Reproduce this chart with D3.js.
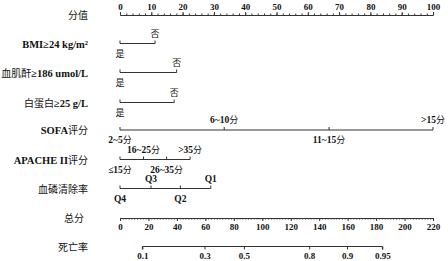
<!DOCTYPE html>
<html>
<head>
<meta charset="utf-8">
<script src="https://cdn.jsdelivr.net/npm/d3@7"></script>
<style>
  body { margin: 0; background: #fff; }
  text { font-family: "Liberation Serif", "Noto Sans CJK SC", serif; fill: #111; }
</style>
</head>
<body>
<svg id="nomo" width="448" height="261"></svg>
<script>
// points for each level
const bmiLevels = ['是', '否'];
const bmiPoints = [0, 11.2];
const creatLevels = ['是', '否'];
const creatPoints = [0, 18.1];
const albLevels = ['是', '否'];
const albPoints = [0, 17.3];
const sofaLevels = ['2~5分', '6~10分', '11~15分', '>15分'];
const sofaPoints = [0, 33.3, 66.8, 100];
const apacheLevels = ['≤15分', '16~25分', '26~35分', '>35分'];
const apachePoints = [0, 7.5, 14.9, 22.4];
const phosLevels = ['Q4', 'Q3', 'Q2', 'Q1'];
const phosPoints = [0, 9.9, 19.3, 29];

const pointTicks = d3.range(0, 101, 10);
const totalTicks = d3.range(0, 221, 20);
const probTicks = ['0.1', '0.3', '0.5', '0.8', '0.9', '0.95'];
const probTotals = [15.7, 59.4, 87.1, 133, 159.6, 184.4];

const rows = [
  { name: '分值', y: 15 },
  { name: 'BMI≥24 kg/m²', y: 43.5, levels: bmiLevels, points: bmiPoints },
  { name: '血肌酐≥186 umol/L', y: 72.5, levels: creatLevels, points: creatPoints },
  { name: '白蛋白≥25 g/L', y: 102.5, levels: albLevels, points: albPoints },
  { name: 'SOFA评分', y: 130, levels: sofaLevels, points: sofaPoints },
  { name: 'APACHE II评分', y: 159.5, levels: apacheLevels, points: apachePoints },
  { name: '血磷清除率', y: 188.5, levels: phosLevels, points: phosPoints },
  { name: '总分', y: 218 },
  { name: '死亡率', y: 246.5 },
];

const svg = d3.select('#nomo');
const lineColor = '#333';

const x = d3.scaleLinear().domain([0, 100]).range([120, 433]);
const xTotal = d3.scaleLinear().domain([0, 220]).range([120, 433]);

// latin bits bold serif, chinese bits normal weight
function mixedText(sel, str, size) {
  const runs = str.match(/[\u4e00-\u9fff]+|[^\u4e00-\u9fff]+/g);
  runs.forEach(run => {
    const cjk = /[\u4e00-\u9fff]/.test(run);
    sel.append('tspan')
      .style('font-size', cjk ? (size - 0.5) + 'px' : size + 'px')
      .style('font-weight', cjk ? 'normal' : 'bold')
      .text(run);
  });
}

// row names on the left
svg.append('g')
  .selectAll('text')
  .data(rows)
  .enter()
  .append('text')
  .attr('x', row => row.name === '总分' ? 84 : 88)
  .attr('y', row => row.y + 2)
  .attr('text-anchor', 'end')
  .attr('dominant-baseline', 'middle')
  .each(function (row) { mixedText(d3.select(this), row.name, 10.5); });

function styleAxis(g) {
  g.selectAll('path, line').attr('stroke', lineColor);
  g.selectAll('text')
    .style('font-family', '"Liberation Serif", serif')
    .style('font-size', '9px')
    .style('font-weight', 'bold')
    .attr('fill', '#111');
}

// points axis (top)
svg.append('g')
  .attr('transform', `translate(0,${rows[0].y})`)
  .call(d3.axisTop(x).tickValues(d3.range(0, 101, 2)).tickSize(1.5).tickFormat('').tickSizeOuter(0))
  .call(styleAxis);
svg.append('g')
  .attr('transform', `translate(0,${rows[0].y})`)
  .call(d3.axisTop(x).tickValues(pointTicks).tickSize(3).tickPadding(2).tickSizeOuter(0))
  .call(styleAxis);

// variable rows
rows.filter(row => row.levels).forEach(row => {
  const g = svg.append('g');
  const xs = row.points.map(p => x(p));
  g.append('line')
    .attr('x1', d3.min(xs)).attr('x2', d3.max(xs))
    .attr('y1', row.y).attr('y2', row.y)
    .attr('stroke', lineColor)
    .attr('stroke-width', 1.2);
  g.selectAll('line.tick')
    .data(row.points)
    .enter()
    .append('line')
    .attr('class', 'tick')
    .attr('x1', p => x(p)).attr('x2', p => x(p))
    .attr('y1', row.y).attr('y2', row.y - 3)
    .attr('stroke', lineColor);
  g.selectAll('text')
    .data(row.levels)
    .enter()
    .append('text')
    .attr('x', (lab, i) => x(row.points[i]))
    .attr('y', (lab, i) => i % 2 === 0 ? row.y + 11 : row.y - 9)
    .attr('text-anchor', 'middle')
    .attr('dominant-baseline', 'middle')
    .each(function (lab) { mixedText(d3.select(this), lab, 9.5); });
});

// total points axis
svg.append('g')
  .attr('transform', `translate(0,${rows[7].y})`)
  .call(d3.axisBottom(xTotal).tickValues(d3.range(0, 221, 2)).tickSize(1.5).tickFormat('').tickSizeOuter(0))
  .call(styleAxis);
svg.append('g')
  .attr('transform', `translate(0,${rows[7].y})`)
  .call(d3.axisBottom(xTotal).tickValues(totalTicks).tickSize(3).tickPadding(3).tickSizeOuter(0))
  .call(styleAxis);

// probability axis
const probAxis = d3.axisBottom(xTotal)
  .tickValues(probTotals)
  .tickFormat((d, i) => probTicks[i])
  .tickSize(3)
  .tickPadding(3)
  .tickSizeOuter(0);
const probG = svg.append('g')
  .attr('transform', `translate(0,${rows[8].y})`)
  .call(probAxis)
  .call(styleAxis);
probG.select('.domain')
  .attr('d', `M${xTotal(probTotals[0])},3V0H${xTotal(probTotals[probTotals.length - 1])}V3`);
</script>
</body>
</html>
